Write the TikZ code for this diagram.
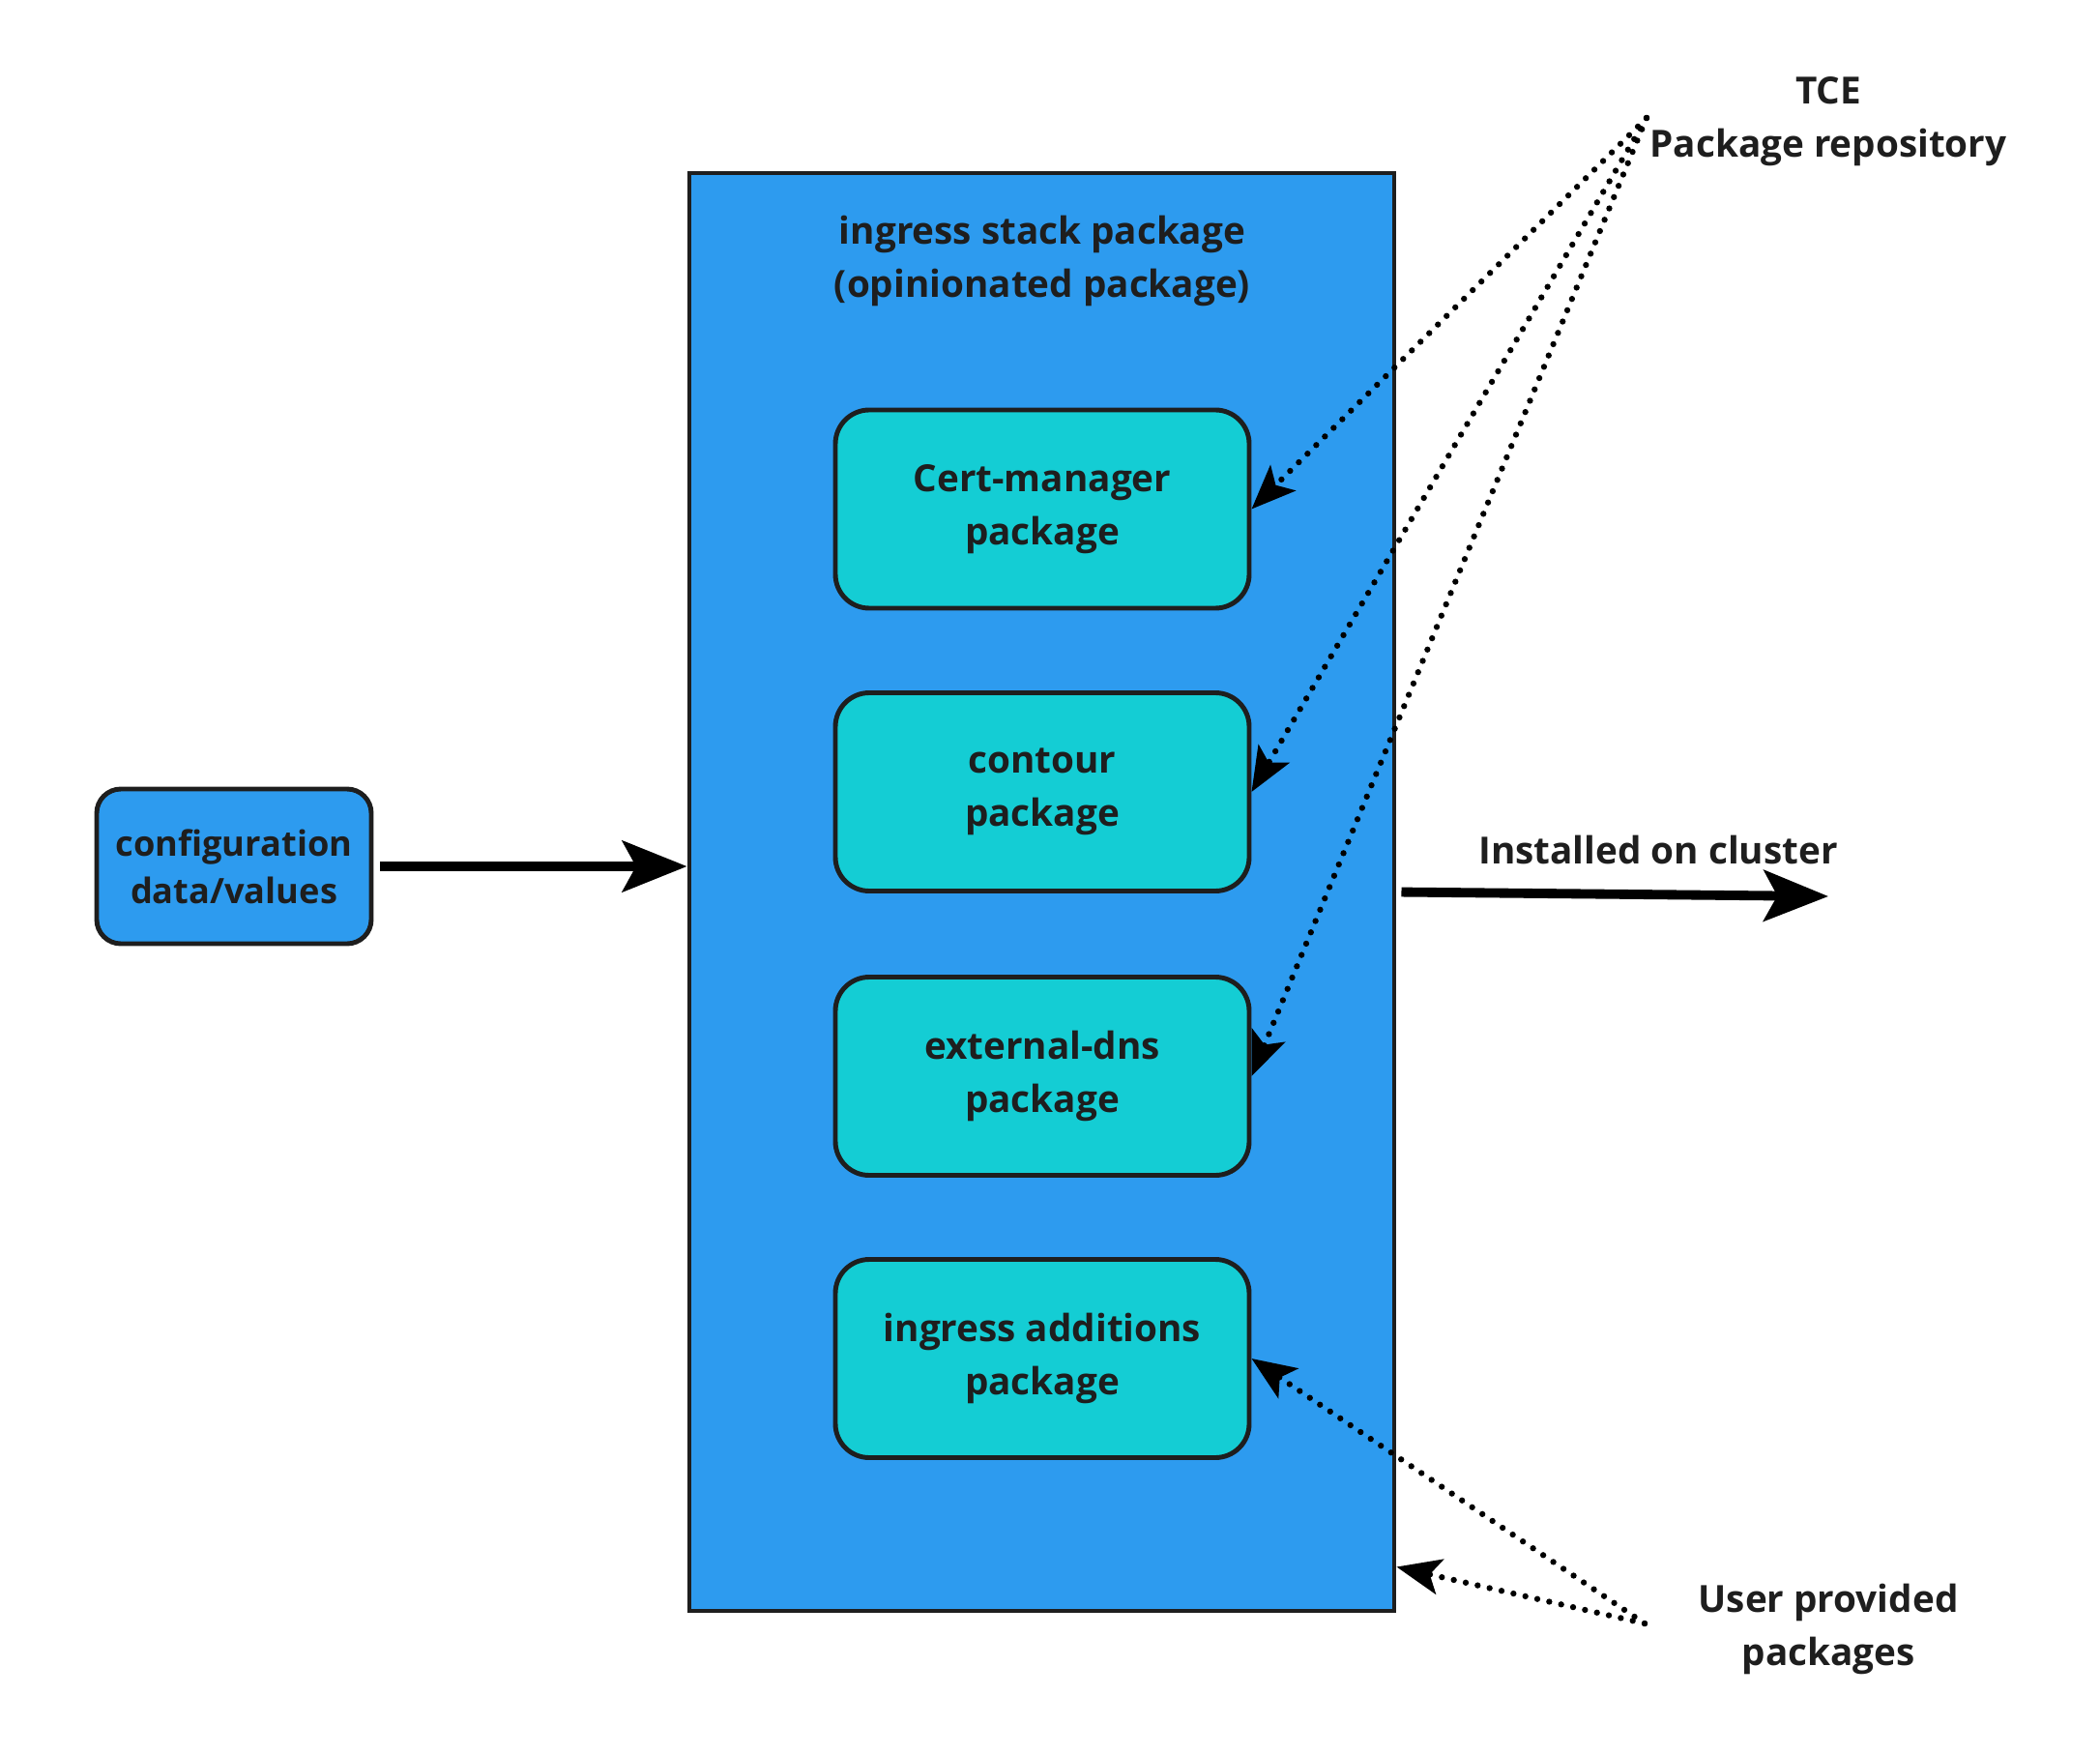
\documentclass[tikz,border=0pt]{standalone}
\usepackage{fontspec}
\setmainfont{Open Sans}
\usetikzlibrary{arrows.meta}
\definecolor{stackblue}{HTML}{2D9BEF}
\definecolor{pkgcyan}{HTML}{14CDD4}
\definecolor{inkgray}{HTML}{1E1E1E}
\tikzset{
  lbl/.style={font=\bfseries\fontsize{11}{15.6}\selectfont, text=inkgray, align=center},
  stackbox/.style={draw=inkgray, line width=1.4pt, fill=stackblue, minimum width=7.29cm, minimum height=14.87cm},
  pkgbox/.style={lbl, draw=inkgray, line width=1.4pt, fill=pkgcyan, rounded corners=0.35cm, minimum width=4.28cm, minimum height=2.05cm},
  cfgbox/.style={lbl, font=\bfseries\fontsize{10.3}{14}\selectfont, draw=inkgray, line width=1.4pt, fill=stackblue, rounded corners=0.25cm, minimum width=2.84cm, minimum height=1.6cm},
  bigarrow/.style={line width=2.8pt, -{Stealth[length=19pt,width=15pt,inset=4pt]}},
  dotarrow/.style={line width=1.8pt, line cap=round, dash pattern=on 0pt off 3.6pt, -{Stealth[length=13pt,width=10.5pt,inset=3pt]}}
}
\begin{document}
\begin{tikzpicture}
\useasboundingbox (0,0) rectangle (21.72,-18.14);
\node[stackbox] (v0) at (10.775,-9.225) {};
\node[lbl] (v1) at (10.78,-2.70) {ingress stack package\\(opinionated package)};
\node[cfgbox] (v2) at (2.42,-8.96) {configuration\\data/values};
\node[pkgbox] (v3) at (10.78,-5.265) {Cert-manager\\package};
\node[pkgbox] (v4) at (10.78,-8.19) {contour\\package};
\node[pkgbox] (v5) at (10.78,-11.13) {external-dns\\package};
\node[pkgbox] (v6) at (10.78,-14.05) {ingress additions\\package};
\node[lbl] (v7) at (18.91,-1.26) {TCE\\Package repository};
\node[lbl] (v8) at (18.91,-16.85) {User provided\\packages};
\node[lbl] (v9) at (17.15,-8.79) {Installed on cluster};
\coordinate (v10) at (17.03,-1.22);
\coordinate (v11) at (17.01,-16.79);
\coordinate (v12) at (18.91,-9.27);
% inputs
\draw (v2.east) edge[bigarrow, shorten <=0.07cm] (v2.east -| v0.west);
\draw (v0.east) edge[bigarrow, shorten <=0.05cm] (v12);
% from the repository
\draw (v10) edge[dotarrow] (v3.east);
\draw (v10) edge[dotarrow] (v4.east);
\draw (v10) edge[dotarrow] (v5.east);
% from the user
\draw (v11) edge[dotarrow] (v6.east);
\draw (v11) edge[dotarrow] ([yshift=0.48cm]v0.south east);
\end{tikzpicture}
\end{document}
